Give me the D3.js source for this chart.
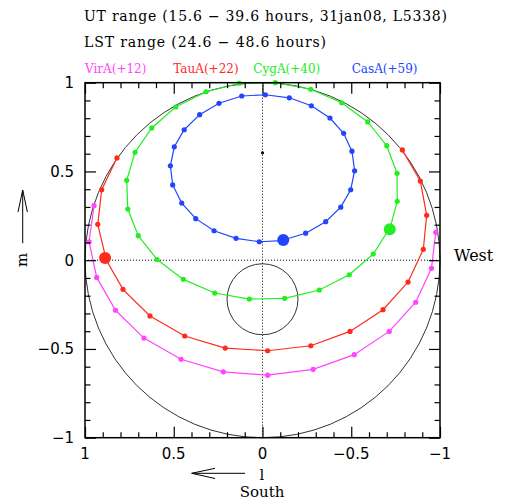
<!DOCTYPE html>
<html><head><meta charset="utf-8">
<script src="https://cdn.jsdelivr.net/npm/d3@7"></script>
<style>body{margin:0;background:#fff}</style></head>
<body><svg id="c" width="513" height="503"></svg>
<script>
// ---- data ----
const titleLines = ["UT range (15.6 \u2212 39.6 hours, 31jan08, L5338)", "LST range (24.6 \u2212 48.6 hours)"];
const sourceNames = ["VirA(+12)", "TauA(+22)", "CygA(+40)", "CasA(+59)"];
const sourceColors = ["#ff44ff", "#ff2a1a", "#22ee22", "#2244ff"];
const tickValues = [1, 0.5, 0, -0.5, -1];
const tickLabels = ["1", "0.5", "0", "\u22120.5", "\u22121"];

// hourly positions (l, m); null = below horizon
const virA_l = [0.949, 0.977, 0.934, 0.828, 0.668, 0.459, 0.221, -0.029, -0.285, -0.517, -0.714, -0.863, -0.952, -0.976];
const virA_m = [0.307, 0.104, -0.097, -0.282, -0.439, -0.558, -0.629, -0.648, -0.615, -0.532, -0.401, -0.237, -0.046, 0.157];
const tauA_l = [0.887, 0.786, 0.634, 0.438, 0.210, -0.029, -0.272, -0.493, -0.679, -0.820, -0.906, -0.925, -0.889, -0.788, null, null, null, null, null, null, null, null, 0.820, 0.906, 0.928, 0.884];
const tauA_m = [0.012, -0.164, -0.314, -0.427, -0.495, -0.510, -0.482, -0.401, -0.279, -0.123, 0.061, 0.253, 0.446, 0.621, null, null, null, null, null, null, null, null, 0.576, 0.397, 0.202, 0.018];
const cygA_l = [-0.717, -0.759, -0.758, -0.700, -0.593, -0.446, -0.272, -0.072, 0.131, 0.318, 0.489, 0.624, 0.718, 0.765, 0.759, 0.700, 0.594, 0.446, 0.269, 0.074, -0.125, -0.320, -0.489, -0.624, -0.710];
const cygA_m = [0.174, 0.332, 0.490, 0.645, 0.779, 0.887, 0.963, 1.000, 0.997, 0.949, 0.863, 0.745, 0.608, 0.450, 0.288, 0.138, 0.004, -0.108, -0.185, -0.219, -0.215, -0.168, -0.082, 0.035, 0.170];
const casA_l = [-0.117, -0.243, -0.356, -0.441, -0.497, -0.519, -0.504, -0.457, -0.380, -0.275, -0.151, -0.016, 0.117, 0.245, 0.354, 0.441, 0.497, 0.519, 0.506, 0.455, 0.376, 0.273, 0.149, 0.018, -0.110];
const casA_m = [0.114, 0.152, 0.217, 0.299, 0.397, 0.504, 0.614, 0.715, 0.801, 0.870, 0.915, 0.932, 0.925, 0.884, 0.820, 0.735, 0.639, 0.532, 0.424, 0.322, 0.234, 0.166, 0.123, 0.104, 0.110];
const startIndex = [null, 0, 0, 0]; // big dot = start time
const pole = [0, 0.605];
const beamCenter = [0, -0.22], beamRadius = 0.2;

const seriesL = [virA_l, tauA_l, cygA_l, casA_l];
const seriesM = [virA_m, tauA_m, cygA_m, casA_m];

// ---- layout ----
const svg = d3.select("#c");
const X0 = 85, X1 = 440, Y0 = 82.7, Y1 = 437.7;
const x = d3.scaleLinear().domain([1, -1]).range([X0, X1]);
const y = d3.scaleLinear().domain([-1, 1]).range([Y1, Y0]);
const serif = "DejaVu Serif", sans = "DejaVu Sans";

// titles
svg.append("text").attr("x", 84).attr("y", 21).attr("font-family", serif).attr("font-size", 14)
  .attr("textLength", 363).text(titleLines[0]);
svg.append("text").attr("x", 84).attr("y", 47).attr("font-family", serif).attr("font-size", 14)
  .attr("textLength", 242).text(titleLines[1]);
const legX = [85, 173.3, 253.3, 351.7];
sourceNames.forEach((n, i) => {
  svg.append("text").attr("x", legX[i]).attr("y", 73).attr("font-family", serif).attr("font-size", 12)
    .attr("fill", sourceColors[i]).text(n);
});

// circles
const sx = d => Math.abs(x(d) - x(0));
svg.append("circle").attr("cx", x(0)).attr("cy", y(0)).attr("r", sx(1))
  .attr("fill", "none").attr("stroke", "#333").attr("stroke-width", 1);
svg.append("circle").attr("cx", x(beamCenter[0])).attr("cy", y(beamCenter[1])).attr("r", sx(beamRadius))
  .attr("fill", "none").attr("stroke", "#333").attr("stroke-width", 1);

// dotted cross
svg.append("line").attr("x1", x(0)).attr("x2", x(0)).attr("y1", y(-1)).attr("y2", y(1))
  .attr("stroke", "#000").attr("stroke-dasharray", "1,2").attr("stroke-width", 1);
svg.append("line").attr("x1", x(1)).attr("x2", x(-1)).attr("y1", y(0)).attr("y2", y(0))
  .attr("stroke", "#000").attr("stroke-dasharray", "1,2").attr("stroke-width", 1);

// pole dot
svg.append("circle").attr("cx", x(pole[0])).attr("cy", y(pole[1])).attr("r", 1.6).attr("fill", "#000");

// series
const line = d3.line().defined(d => d[0] != null && d[1] != null).x(d => x(d[0])).y(d => y(d[1]));
seriesL.forEach((L, i) => {
  const pts = L.map((l, k) => [l, seriesM[i][k]]);
  svg.append("path").attr("d", line(pts)).attr("fill", "none")
    .attr("stroke", sourceColors[i]).attr("stroke-width", 1.2);
  svg.selectAll(null).data(pts.filter(p => p[0] != null)).enter().append("circle")
    .attr("cx", d => x(d[0])).attr("cy", d => y(d[1])).attr("r", 2.6).attr("fill", sourceColors[i]);
  if (startIndex[i] != null) {
    const p = pts[startIndex[i]];
    svg.append("circle").attr("cx", x(p[0])).attr("cy", y(p[1])).attr("r", 6).attr("fill", sourceColors[i]);
  }
});

// axes with inward ticks
const minor = d3.range(-10, 11).map(v => v / 10).filter(v => Math.abs(v * 2 - Math.round(v * 2)) > 1e-6);
const major = tickValues;
function axes(gen, scale, vals, len, tx, ty) {
  svg.append("g").attr("transform", `translate(${tx},${ty})`)
    .call(gen(scale).tickValues(vals).tickSize(len).tickFormat(""))
    .call(g => { g.select(".domain").remove(); g.selectAll("line").attr("stroke", "#000").attr("stroke-width", 1.2); });
}
axes(d3.axisBottom, x, major, -11, 0, Y1);
axes(d3.axisBottom, x, minor, -5.5, 0, Y1);
axes(d3.axisTop, x, major, -11, 0, Y0);
axes(d3.axisTop, x, minor, -5.5, 0, Y0);
axes(d3.axisLeft, y, major, -11, X0, 0);
axes(d3.axisLeft, y, minor, -5.5, X0, 0);
axes(d3.axisRight, y, major, -11, X1, 0);
axes(d3.axisRight, y, minor, -5.5, X1, 0);
svg.append("rect").attr("x", X0).attr("y", Y0).attr("width", X1 - X0).attr("height", Y1 - Y0)
  .attr("fill", "none").attr("stroke", "#000").attr("stroke-width", 1.5);

// tick labels
tickValues.forEach((v, i) => {
  svg.append("text").attr("x", x(v)).attr("y", 459).attr("text-anchor", "middle")
    .attr("font-family", sans).attr("font-size", 15).text(tickLabels[i]);
  svg.append("text").attr("x", 74).attr("y", y(v) + 5.5).attr("text-anchor", "end")
    .attr("font-family", sans).attr("font-size", 15).text(tickLabels[i]);
});

// axis labels
svg.append("text").attr("x", 262).attr("y", 480).attr("text-anchor", "middle")
  .attr("font-family", serif).attr("font-size", 15).text("l");
svg.append("text").attr("x", 262).attr("y", 497).attr("text-anchor", "middle")
  .attr("font-family", serif).attr("font-size", 15).text("South");
svg.append("text").attr("x", 454).attr("y", 261).attr("font-family", serif).attr("font-size", 16).text("West");
svg.append("text").attr("transform", "translate(27,260) rotate(-90)").attr("text-anchor", "middle")
  .attr("font-family", serif).attr("font-size", 15).text("m");
// arrows
const arr = svg.append("g").attr("stroke", "#000").attr("fill", "none").attr("stroke-width", 1);
arr.append("path").attr("d", "M245,473.3 L191.7,473.3 M215,468.3 L191.7,473.3 L215,478.5");
arr.append("path").attr("d", "M22.7,243.3 L22.7,190 M18,212 L22.7,190 L27.4,212");
</script></body></html>
